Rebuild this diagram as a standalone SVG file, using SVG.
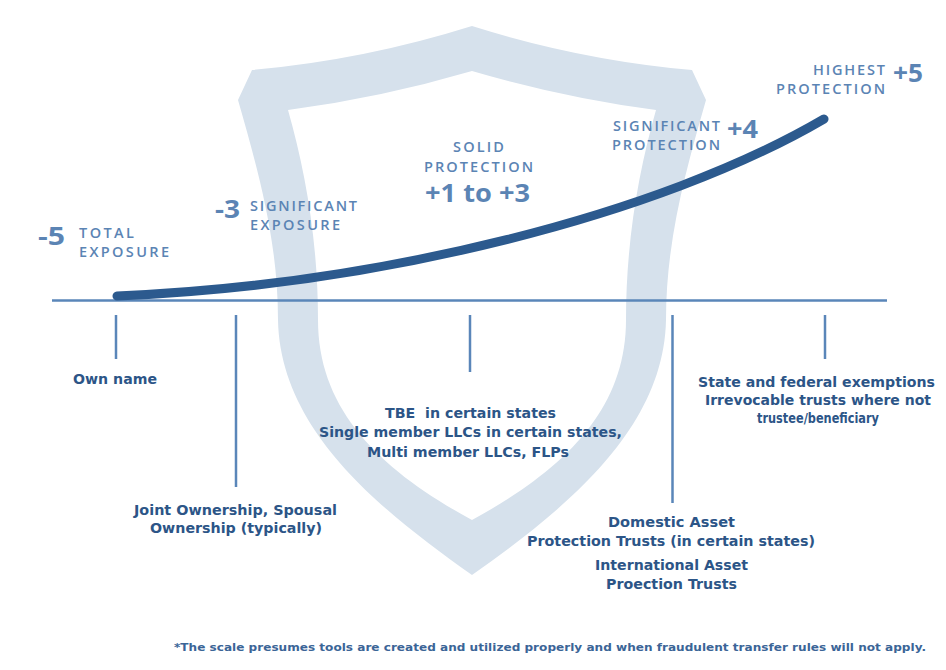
<svg xmlns="http://www.w3.org/2000/svg" width="946" height="670" viewBox="0 0 946 670">
<style>
.up{font-family:"Open Sans","DejaVu Sans",sans-serif;font-weight:600;fill:#5b84b4;font-size:14.5px}
.big{font-family:"Open Sans","DejaVu Sans",sans-serif;font-weight:700;fill:#5b84b4;font-size:25px}
.lo{font-family:"DejaVu Sans","Liberation Sans",sans-serif;font-weight:700;fill:#2c5587;font-size:13.5px;text-anchor:middle}
.foot{font-family:"DejaVu Sans","Liberation Sans",sans-serif;font-weight:600;fill:#3b6597;font-size:11px}
.tick{stroke:#5a86b9;stroke-width:2.5;fill:none}
</style>
<rect width="946" height="670" fill="#ffffff"/>
<g id="shield">
<path fill="#d6e1ec" fill-rule="evenodd" d="M472,26 Q364,60 252,70 L238,100 C258,170 278,240 278,320 C280,430 380,510 472,575 C564,510 664,430 666,320 C666,240 686,170 706,100 L692,70 Q580,60 472,26 Z M472,71 Q380,98 288,110 C305,170 318,240 318,320 C318,410 380,470 472,520 C564,470 626,410 626,320 C626,240 639,170 656,110 Q564,98 472,71 Z"/>
</g>
<g id="connectors">
<line class="tick" x1="52" y1="300.5" x2="887" y2="300.5"/>
<line class="tick" x1="116" y1="315" x2="116" y2="359"/>
<line class="tick" x1="236" y1="315" x2="236" y2="487"/>
<line class="tick" x1="470" y1="315" x2="470" y2="372"/>
<line class="tick" x1="672.5" y1="315" x2="672.5" y2="503"/>
<line class="tick" x1="825" y1="315" x2="825" y2="359"/>
<path d="M117,296 C380,285 660,215 824,119" fill="none" stroke="#2c5a8e" stroke-width="9" stroke-linecap="round"/>
</g>
<g id="total-exposure">
<text class="big" x="38" y="245" textLength="27" lengthAdjust="spacingAndGlyphs">-5</text>
<text class="up" x="79" y="238" textLength="55" lengthAdjust="spacing">TOTAL</text>
<text class="up" x="79" y="257" textLength="90" lengthAdjust="spacing">EXPOSURE</text>
</g>
<g id="significant-exposure">
<text class="big" x="215" y="218" textLength="25" lengthAdjust="spacingAndGlyphs">-3</text>
<text class="up" x="250" y="211" textLength="107" lengthAdjust="spacing">SIGNIFICANT</text>
<text class="up" x="250" y="230" textLength="90" lengthAdjust="spacing">EXPOSURE</text>
</g>
<g id="solid-protection">
<text class="up" x="478.5" y="152" text-anchor="middle" textLength="51" lengthAdjust="spacing">SOLID</text>
<text class="up" x="478.5" y="172" text-anchor="middle" textLength="109" lengthAdjust="spacing">PROTECTION</text>
<text class="big" x="477.5" y="202" text-anchor="middle" font-size="27" textLength="105" lengthAdjust="spacingAndGlyphs">+1 to +3</text>
</g>
<g id="significant-protection">
<text class="up" x="613" y="131" font-size="14" textLength="107" lengthAdjust="spacing">SIGNIFICANT</text>
<text class="up" x="612" y="150" font-size="14" textLength="108" lengthAdjust="spacing">PROTECTION</text>
<text class="big" x="727" y="138" textLength="31" lengthAdjust="spacingAndGlyphs">+4</text>
</g>
<g id="highest-protection">
<text class="up" x="813" y="75" textLength="72" lengthAdjust="spacing">HIGHEST</text>
<text class="up" x="776" y="94" textLength="109" lengthAdjust="spacing">PROTECTION</text>
<text class="big" x="893" y="82" textLength="30" lengthAdjust="spacingAndGlyphs">+5</text>
</g>
<g id="own-name">
<text class="lo" x="115" y="384" textLength="84" lengthAdjust="spacingAndGlyphs">Own name</text>
</g>
<g id="joint-ownership">
<text class="lo" x="235.5" y="515" textLength="203" lengthAdjust="spacingAndGlyphs">Joint Ownership, Spousal</text>
<text class="lo" x="236" y="533" textLength="172" lengthAdjust="spacingAndGlyphs">Ownership (typically)</text>
</g>
<g id="tbe-llcs">
<text class="lo" x="470.5" y="418" textLength="171" lengthAdjust="spacingAndGlyphs" xml:space="preserve">TBE  in certain states</text>
<text class="lo" x="470.5" y="437" textLength="303" lengthAdjust="spacingAndGlyphs">Single member LLCs in certain states,</text>
<text class="lo" x="468" y="457" textLength="202" lengthAdjust="spacingAndGlyphs">Multi member LLCs, FLPs</text>
</g>
<g id="trusts">
<text class="lo" x="671.5" y="527" textLength="127" lengthAdjust="spacingAndGlyphs">Domestic Asset</text>
<text class="lo" x="671" y="546" textLength="288" lengthAdjust="spacingAndGlyphs">Protection Trusts (in certain states)</text>
<text class="lo" x="671.5" y="570" textLength="153" lengthAdjust="spacingAndGlyphs">International Asset</text>
<text class="lo" x="671.5" y="589" textLength="131" lengthAdjust="spacingAndGlyphs">Proection Trusts</text>
</g>
<g id="exemptions">
<text class="lo" x="816.5" y="387" textLength="237" lengthAdjust="spacingAndGlyphs">State and federal exemptions</text>
<text class="lo" x="818" y="405" textLength="226" lengthAdjust="spacingAndGlyphs">Irrevocable trusts where not</text>
<text class="lo" x="818" y="423" textLength="122" lengthAdjust="spacingAndGlyphs">trustee/beneficiary</text>
</g>
<g id="footnote">
<text class="foot" x="174" y="651" textLength="752" lengthAdjust="spacingAndGlyphs">*The scale presumes tools are created and utilized properly and when fraudulent transfer rules will not apply.</text>
</g>
</svg>
